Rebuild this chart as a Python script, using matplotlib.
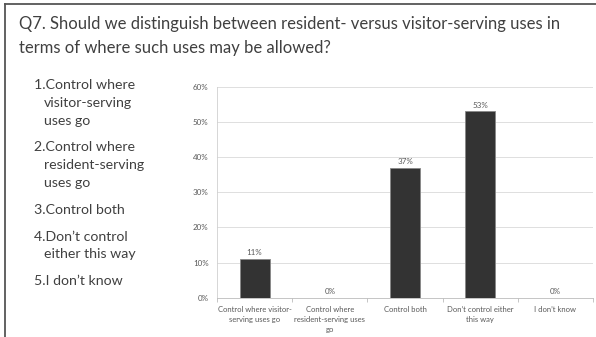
import matplotlib
matplotlib.use("Agg")
import matplotlib.pyplot as plt
from matplotlib.lines import Line2D

categories = ["Control where visitor-\nserving uses go",
              "Control where\nresident-serving uses\ngo",
              "Control both",
              "Don\u2019t control either\nthis way",
              "I don\u2019t know"]
values = [11, 0, 37, 53, 0]
yticks = [0, 10, 20, 30, 40, 50, 60]

title = "Q7. Should we distinguish between resident- versus visitor-serving uses in\nterms of where such uses may be allowed?"
options = [("1.Control where", "visitor-serving", "uses go"),
           ("2.Control where", "resident-serving", "uses go"),
           ("3.Control both",),
           ("4.Don\u2019t control", "either this way"),
           ("5.I don\u2019t know",)]

plt.rcParams['font.family'] = ['Lato', 'DejaVu Sans']
W, H = 596, 337
fig = plt.figure(figsize=(W/100, H/100), dpi=100)
fig.patch.set_facecolor('white')

# frame lines (left and top)
fig.add_artist(Line2D([4.5/W, 4.5/W], [0, 1 - 3.5/H], color='#555555', lw=1.3, transform=fig.transFigure))
fig.add_artist(Line2D([4.5/W, 1], [1 - 3.5/H, 1 - 3.5/H], color='#555555', lw=1.3, transform=fig.transFigure))

tl = title.split("\n")
fig.text(19/W, 1 - 23.5/H, tl[0], fontsize=12, color='#404040', va='center', ha='left')
fig.text(19/W, 1 - 47.5/H, tl[1], fontsize=12, color='#404040', va='center', ha='left')

y = 85
for opt in options:
    for i, line in enumerate(opt):
        x = 34 if i == 0 else 44
        fig.text(x/W, 1 - y/H, line, fontsize=10.2, color='#404040', va='center', ha='left')
        y += 17.8
    y += 9

ax = fig.add_axes([217/W, 1 - 297.7/H, (593-217)/W, (297.7-86.7)/H])
xs = range(len(categories))
bars = ax.bar(xs, values, width=0.4, color='#333333', edgecolor='#888888', linewidth=0.6, zorder=3)
for xi, v in zip(xs, values):
    ax.text(xi, v + 0.8, f"{v}%", ha='center', va='bottom', fontsize=5.8, color='#595959')

ax.set_xlim(-0.5, len(categories) - 0.5)
ax.set_ylim(0, 60)
ax.set_yticks(yticks)
ax.set_yticklabels([f"{t}%" for t in yticks], fontsize=5.8, color='#595959')
ax.tick_params(axis='y', length=0, pad=6)
ax.set_xticks([x + 0.5 for x in range(-1, len(categories))], minor=True)
ax.set_xticks(list(xs))
ax.set_xticklabels(categories, fontsize=5.5, color='#595959', linespacing=1.5)
ax.tick_params(axis='x', which='major', length=0, pad=6)
ax.tick_params(axis='x', which='minor', length=3, color='#bbbbbb', width=0.6)
ax.grid(axis='y', color='#d9d9d9', linewidth=0.6, zorder=0)
for s in ['top', 'right']:
    ax.spines[s].set_visible(False)
ax.spines['left'].set_color('#d0d0d0')
ax.spines['left'].set_linewidth(0.6)
ax.spines['bottom'].set_color('#bbbbbb')
ax.spines['bottom'].set_linewidth(0.6)

fig.savefig('out.png', dpi=100)
